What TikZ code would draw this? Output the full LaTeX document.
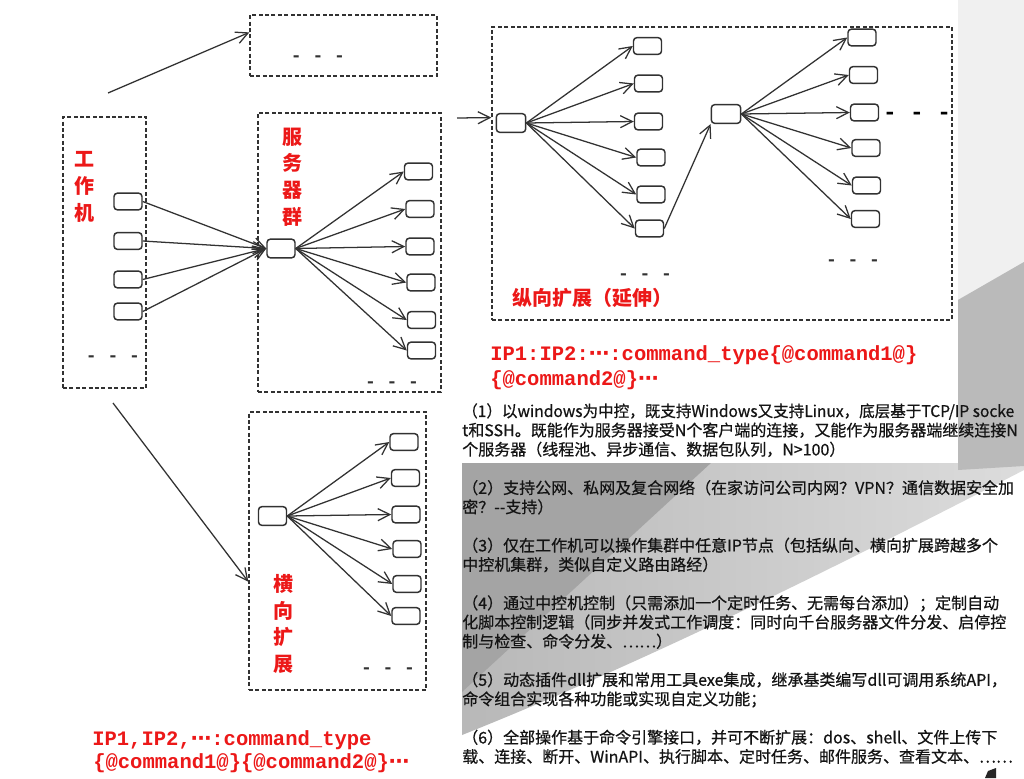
\documentclass[tikz,border=0pt]{standalone}
\usepackage{fontspec}
\usepackage{graphicx}
\setmainfont{Noto Sans CJK SC}
\newfontfamily\cjk{Noto Sans CJK SC}
\newfontfamily\cjkbody[FakeBold=0.6]{Noto Sans CJK SC}
\newfontfamily\monof{Liberation Mono}
\newfontfamily\dejavu{DejaVu Sans}
\usetikzlibrary{arrows.meta,fit,calc}
\definecolor{redlbl}{RGB}{236,24,24}
\definecolor{ln}{RGB}{50,50,50}
\definecolor{bandA}{RGB}{184,184,184}
\definecolor{bandB}{RGB}{220,220,220}
\definecolor{darkw}{RGB}{164,164,164}
\definecolor{stripc}{RGB}{186,186,186}
\definecolor{topl}{RGB}{240,240,240}
\newcommand{\midell}{{\dejavu\bfseries ⋯}}
\begin{document}
\begin{tikzpicture}[x=0.75pt,y=-0.75pt,
  sbox/.style={draw=ln,line width=1.1pt,rounded corners=2.5pt,minimum width=21pt,minimum height=12.5pt,inner sep=0pt,fill=white},
  dbox/.style={draw=ln,line width=1pt,dash pattern=on 3pt off 1.8pt,inner sep=0pt},
  arr/.style={draw=ln,line width=0.95pt,-{Straight Barb[length=9pt,width=9pt]}},
  vlab/.style={text=redlbl,font=\cjk\bfseries\fontsize{15pt}{20pt}\selectfont,align=center,inner sep=0pt},
  hlab/.style={text=redlbl,font=\cjk\bfseries\fontsize{15pt}{18pt}\selectfont,inner sep=0pt,anchor=west},
  cmd/.style={text=redlbl,font=\monof\bfseries\fontsize{15.4pt}{18pt}\selectfont,inner sep=0pt,anchor=west},
  ell/.style={font=\monof\bfseries\fontsize{13.5pt}{14pt}\selectfont,inner sep=0pt,text=ln},
  body/.style={font=\cjkbody\fontsize{12pt}{14.4pt}\selectfont,align=left,inner sep=0pt,anchor=north west,text=black!92}
]
\useasboundingbox (0,0) rectangle (1024,778);
\fill[white] (0,0) rectangle (1024,778);

% ---------- background swoosh ----------
\fill[topl] (958,0) -- (1024,0) -- (1024,262) -- (958,300) -- cycle;
\shade[left color=bandA,right color=bandB] (958,300) -- (1024,262) -- (1024,470)
   .. controls (850,560) and (650,660) .. (462,735) -- (462,462) -- (958,462) -- cycle;
\fill[stripc] (958,300) -- (1024,262) -- (1024,466) -- (958,470) -- cycle;
\fill[darkw] (462,462) -- (712,462) -- (462,692) -- cycle;
\fill[white] (462,300) rectangle (958,463);
\fill[black!85] (985,778) -- (988,771) -- (996,768) -- (996,778) -- cycle;

% ---------- dashed group boxes ----------
\node[dbox,fit={(63,117) (146,388)}] (wbox) {};
\node[dbox,fit={(250,15) (437,76)}] (tbox) {};
\node[dbox,fit={(258,113) (441,392)}] (sbox) {};
\node[dbox,fit={(492,27) (952,320)}] (vbox) {};
\node[dbox,fit={(249,412) (426,690)}] (hbox) {};

% ---------- labels ----------
\node[vlab] (lw) at (84,187) {工\\作\\机};
\node[vlab] (ls) at (292,177) {服\\务\\器\\群};
\node[vlab] (lh) at (283,624) {横\\向\\扩\\展};
\node[hlab] (lv) at (512,298) {纵向扩展（延伸）};

% ---------- ellipses ----------
\node[ell] (e1) at (113,359) {- - -};
\node[ell] (e2) at (318,59) {- - -};
\node[ell] (e3) at (392,385) {- - -};
\node[ell] (e4) at (388,671) {- - -};
\node[ell] (e5) at (645,277) {- - -};
\node[ell] (e6) at (853,263) {- - -};
\node[ell,font=\monof\bfseries\fontsize{17pt}{18pt}\selectfont,text=black] (e7) at (917,116) {- - -};

% ---------- worker machines ----------
\node[sbox] (w1) at (128,201.5) {};
\node[sbox] (w2) at (128,241) {};
\node[sbox] (w3) at (128,279.5) {};
\node[sbox] (w4) at (128,311.5) {};

% ---------- server cluster ----------
\node[sbox,minimum height=14pt] (s0) at (281,248.5) {};
\node[sbox] (s1) at (418.5,171.5) {};
\node[sbox] (s2) at (420,209) {};
\node[sbox] (s3) at (420,246.5) {};
\node[sbox] (s4) at (421,282.5) {};
\node[sbox] (s5) at (421.5,320) {};
\node[sbox] (s6) at (421.5,350.5) {};

% ---------- vertical extension ----------
\node[sbox,minimum width=22pt,minimum height=14pt] (v0) at (511,123) {};
\node[sbox] (c1) at (647.5,46) {};
\node[sbox] (c2) at (648.5,83.5) {};
\node[sbox] (c3) at (648.5,121.5) {};
\node[sbox] (c4) at (651,157.5) {};
\node[sbox] (c5) at (651,194.5) {};
\node[sbox] (c6) at (649.5,228.5) {};
\node[sbox,minimum width=22pt,minimum height=14pt] (m0) at (726,114) {};
\node[sbox] (d1) at (862,37.5) {};
\node[sbox] (d2) at (863.5,75) {};
\node[sbox] (d3) at (864.5,112.5) {};
\node[sbox] (d4) at (866,148) {};
\node[sbox] (d5) at (866.5,185.5) {};
\node[sbox] (d6) at (865.5,219) {};

% ---------- horizontal extension ----------
\node[sbox,minimum height=14pt] (h0) at (272.5,516) {};
\node[sbox] (h1) at (404,442) {};
\node[sbox] (h2) at (405.5,478) {};
\node[sbox] (h3) at (406,514.5) {};
\node[sbox] (h4) at (407,549) {};
\node[sbox] (h5) at (407,584) {};
\node[sbox] (h6) at (406,616) {};

% ---------- connectors ----------
\foreach \n in {w1,w2,w3,w4} \draw[arr] (\n.east) -- (s0.west);
\foreach \n in {s1,s2,s3,s4,s5,s6} \draw[arr] (s0.east) -- (\n.west);
\foreach \n in {c1,c2,c3,c4,c5,c6} \draw[arr] (v0.east) -- (\n.west);
\draw[arr] (c6.east) -- (m0.south west);
\foreach \n in {d1,d2,d3,d4,d5,d6} \draw[arr] (m0.east) -- (\n.west);
\foreach \n in {h1,h2,h3,h4,h5,h6} \draw[arr] (h0.east) -- (\n.west);

\coordinate (wa) at (108,93);
\coordinate (wb) at (113,403);
\coordinate (va) at (457,118);
\draw[arr] (wa) -- ($(tbox.north west)!0.29!(tbox.south west)$);
\draw[arr] (wb) -- ($(hbox.north west)!0.61!(hbox.south west)$);
\draw[arr] (va) -- ($(vbox.north west)!0.31!(vbox.south west)$);

% ---------- command formats ----------
\node[cmd] (f1) at (490,355) {IP1:IP2:\midell:command\_type\{@command1@\}};
\node[cmd] (f2) at (490,380) {\{@command2@\}\midell};
\node[cmd] (f3) at (92,740) {IP1,IP2,\midell:command\_type};
\node[cmd] (f4) at (93,763) {\{@command1@\}\{@command2@\}\midell};

% ---------- feature list ----------
\node[body] (txt) at (462,403) {%
\scalebox{0.972}[1]{（1）以windows为中控，既支持Windows又支持Linux，底层基于TCP/IP socke}\\
t和SSH。既能作为服务器接受N个客户端的连接，又能作为服务器端继续连接N\\
个服务器（线程池、异步通信、数据包队列，N>100）\\[14.4pt]
（2）支持公网、私网及复合网络（在家访问公司内网？VPN？通信数据安全加\\
密？-{}-支持）\\[14.4pt]
（3）仅在工作机可以操作集群中任意IP节点（包括纵向、横向扩展跨越多个\\
中控机集群，类似自定义路由路经）\\[14.4pt]
（4）通过中控机控制（只需添加一个定时任务、无需每台添加）；定制自动\\
化脚本控制逻辑（同步并发式工作调度：同时向千台服务器文件分发、启停控\\
制与检查、命令分发、……）\\[14.4pt]
（5）动态插件dll扩展和常用工具exe集成，继承基类编写dll可调用系统API，\\
命令组合实现各种功能或实现自定义功能；\\[14.4pt]
（6）全部操作基于命令引擎接口，并可不断扩展：dos、shell、文件上传下\\
载、连接、断开、WinAPI、执行脚本、定时任务、邮件服务、查看文本、……};
\end{tikzpicture}
\end{document}
